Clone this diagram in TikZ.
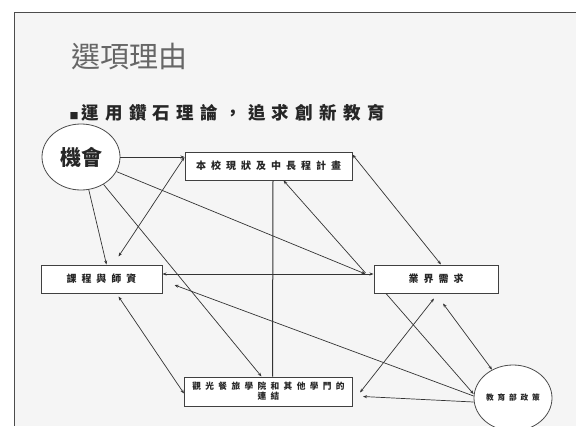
\documentclass[tikz,border=0pt]{standalone}
\usepackage{fontspec}
\newfontfamily\cjk{Noto Sans CJK TC}
\newfontfamily\cjkwide[LetterSpace=50]{Noto Sans CJK TC}
\newfontfamily\cjksub[LetterSpace=36]{Noto Sans CJK TC}
\usetikzlibrary{arrows.meta,positioning,shapes.geometric}

\begin{document}
\begin{tikzpicture}[
    x=1pt, y=-1pt,
    box/.style={draw=black!75, line width=1pt, fill=white, minimum height=28pt, inner sep=1pt, align=center, text=black!85, font=\cjkwide\bfseries\fontsize{10}{11}\selectfont},
    blob/.style={ellipse, draw=black!70, line width=0.8pt, fill=white, minimum width=78pt, minimum height=66pt, inner sep=0pt, text=black!85},
    ln/.style={draw=black!80, line width=0.7pt},
    ar/.style={ln, -{Stealth[length=4pt,width=3pt]}},
    ar2/.style={ln, {Stealth[length=4pt,width=3pt]}-{Stealth[length=4pt,width=3pt]}}
  ]
  \useasboundingbox (0,0) rectangle (576,426);
  \fill[black!4] (14,12) rectangle (576,426);
  \draw[black!70, line width=1pt] (576,12) -- (14,12) -- (14,426);

  % heading
  \node[anchor=west, text=black!60, font=\cjk\fontsize{29}{30}\selectfont] (title) at (68,57) {選項理由};
  \node[anchor=west, text=black!85, font=\cjksub\bfseries\fontsize{17.5}{20}\selectfont] (sub) at (66,113) {{\fontsize{9}{9}\selectfont ■}\hspace{3pt}運用鑽石理論，追求創新教育};

  % diamond
  \node[box, minimum width=167pt] (plan) at (268.5,166) {本校現狀及中長程計畫};
  \node[box, minimum width=121pt, below left=84pt and 22pt of plan] (course) {課程與師資};
  \node[box, minimum width=124pt, below right=84pt and 21pt of plan] (industry) {業界需求};
  \node[box, minimum width=168pt, minimum height=29pt, below=196pt of plan, font=\cjkwide\bfseries\fontsize{8.7}{10}\selectfont] (link) {觀光餐旅學院和其他學門的\\連結};
  \node[blob, font=\cjk\bfseries\fontsize{21}{22}\selectfont] (chance) at (81,157) {機會};
  \node[blob, font=\cjkwide\bfseries\fontsize{7.7}{9}\selectfont] (policy) at (513,398) {教育部政策};

  \draw[ar] (chance) -- ([yshift=9pt]plan.west);
  \draw[ar2] ([xshift=17pt,yshift=8pt]course.north) -- ([yshift=9pt]plan.west);
  \draw[ar] (chance) -- ([xshift=-8pt,yshift=5pt]industry.west);
  \draw[ar2] ([yshift=5pt]course.east) -- ([yshift=5pt]industry.west);
  \draw[ar] (chance) -- ([xshift=5pt]course.north);
  \draw[ar] (chance) -- ([xshift=-7pt]link.north);
  \draw[ar2] ([yshift=-3pt]plan.north east) -- ([xshift=5pt]industry.north);
  \draw[ln, line width=1pt] ([xshift=4.5pt]plan.south) -- ([xshift=4pt]link.north);
  \draw[ar] ([xshift=-8pt,yshift=6pt]industry.west) -- ([xshift=15pt]plan.south);
  \draw[ar2] ([xshift=17pt,yshift=-3pt]course.south) -- ([yshift=-2pt]link.west);
  \draw[ar] ([yshift=2pt]policy.west) -- ([xshift=12pt,yshift=-6pt]course.east);
  \draw[ar2] ([xshift=-2pt,yshift=-5pt]industry.south) -- ([xshift=7pt,yshift=-1pt]link.east);
  \draw[ar] ([yshift=-4pt]policy.west) -- ([xshift=10pt,yshift=-5pt]link.east);
  \draw[ar2] ([xshift=7pt,yshift=-10pt]industry.south) -- (policy);
  \draw[ar] ([xshift=-50pt]industry.south) -- ([yshift=4pt]policy.west);
\end{tikzpicture}
\end{document}
